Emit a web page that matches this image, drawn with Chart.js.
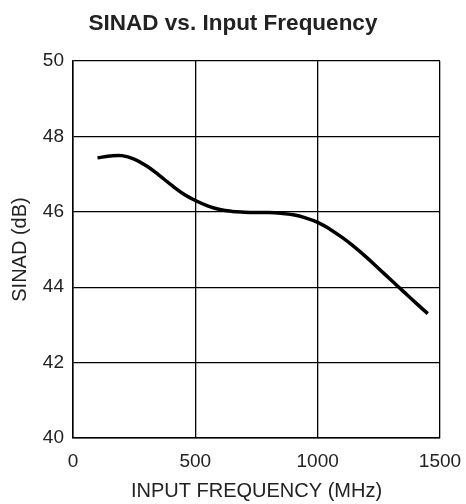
<!DOCTYPE html>
<html>
<head>
<meta charset="utf-8">
<script src="https://cdn.jsdelivr.net/npm/chart.js@4/dist/chart.umd.min.js"></script>
<style>
  html, body { margin: 0; padding: 0; background: #fff; }
  #wrap { width: 466px; height: 504px; }
</style>
</head>
<body>
<div id="wrap"><canvas id="chartSinad"></canvas></div>
<script>
const freqMHz = [100, 150, 200, 250, 300, 350, 400, 450, 500, 550, 600, 650, 700, 750,
  800, 850, 900, 950, 1000, 1050, 1100, 1150, 1200, 1250, 1300, 1350, 1400, 1450];
const sinadDb = [47.43, 47.48, 47.49, 47.4, 47.22, 46.98, 46.72, 46.48, 46.3, 46.16, 46.06, 46.01, 45.99, 45.98,
  45.98, 45.96, 45.92, 45.84, 45.72, 45.54, 45.32, 45.07, 44.79, 44.49, 44.19, 43.89, 43.59, 43.3];

const xTicks = [0, 500, 1000, 1500];
const yTicks = [40, 42, 44, 46, 48, 50];

const FONT = "'Liberation Sans', Arial, Helvetica, sans-serif";
const INK = "#222";

const chart = new Chart(chartSinad, {
  type: 'line',
  data: {
    datasets: [{
      data: freqMHz.map((f, i) => ({ x: f, y: sinadDb[i] })),
      borderColor: "#000",
      borderWidth: 3.5,
      pointRadius: 0,
      tension: 0.4,
      fill: false
    }]
  },
  options: {
    responsive: true,
    maintainAspectRatio: false,
    animation: false,
    layout: { padding: 0 },
    plugins: {
      legend: { display: false },
      tooltip: { enabled: false },
      title: {
        display: true,
        text: "SINAD vs. Input Frequency",
        color: INK,
        font: { family: FONT, size: 22.5, weight: 'bold' },
        padding: { top: 10, bottom: 24 }
      }
    },
    scales: {
      x: {
        type: 'linear',
        min: 0, max: 1500,
        afterBuildTicks: s => { s.ticks = xTicks.map(v => ({ value: v })); },
        // fixed band under the plot, and room on the right for the "1500" label
        afterFit: s => { s.height = 66; s.paddingRight = 26; },
        grid: { color: "#000", lineWidth: 1.3, drawTicks: false },
        border: { display: true, color: "#000", width: 1.5 },
        ticks: { color: INK, font: { family: FONT, size: 19 }, padding: 12, maxRotation: 0,
          callback: v => String(v) },
        title: {
          display: true,
          text: "INPUT FREQUENCY (MHz)",
          color: INK,
          font: { family: FONT, size: 20 },
          padding: { top: 1, bottom: 1 }
        }
      },
      y: {
        min: 40, max: 50,
        afterBuildTicks: s => { s.ticks = yTicks.map(v => ({ value: v })); },
        afterFit: s => { s.width = 73; },
        grid: { color: "#000", lineWidth: 1.3, drawTicks: false },
        border: { display: true, color: "#000", width: 1.5 },
        ticks: { color: INK, font: { family: FONT, size: 19 }, padding: 9,
          callback: v => String(v) },
        title: {
          display: true,
          text: "SINAD (dB)",
          color: INK,
          font: { family: FONT, size: 20 },
          padding: { top: 8, bottom: 8 }
        }
      }
    }
  }
});
</script>
</body>
</html>
